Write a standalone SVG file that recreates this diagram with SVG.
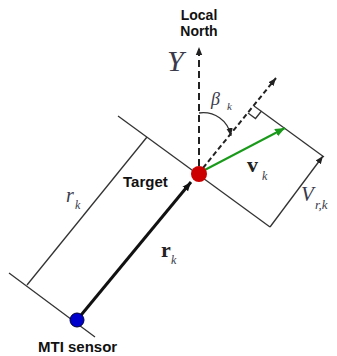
<svg xmlns="http://www.w3.org/2000/svg" width="337" height="356" viewBox="0 0 337 356">
<defs>
<style>
.thin{fill:none;stroke:#333;stroke-width:1.3}
.dash{fill:none;stroke:#222;stroke-width:2}
.lbl{font-family:"Liberation Sans",Arial,sans-serif;font-weight:bold;fill:#111}
.math{font-family:"Liberation Serif","Times New Roman",serif;font-style:italic;fill:#3a3a4a}
.bold{font-family:"Liberation Serif","Times New Roman",serif;font-weight:bold;fill:#222}
</style>
<marker id="ah" viewBox="0 0 10 10" refX="10" refY="5" markerWidth="9" markerHeight="9" markerUnits="userSpaceOnUse" orient="auto"><path d="M0,1 L10,5 L0,9 z" fill="#111"/></marker>
<marker id="ahs" viewBox="0 0 10 10" refX="10" refY="5" markerWidth="8" markerHeight="8" markerUnits="userSpaceOnUse" orient="auto"><path d="M0,1 L10,5 L0,9 z" fill="#222"/></marker>
<marker id="ahg" viewBox="0 0 10 10" refX="10" refY="5" markerWidth="10" markerHeight="10" markerUnits="userSpaceOnUse" orient="auto"><path d="M0,1 L10,5 L0,9 z" fill="#1a9a1a"/></marker>
</defs>
<rect width="337" height="356" fill="#fff"/>
<g id="connectors">
<path class="thin" d="M118,116 L270,227"/>
<path class="thin" d="M9,273 L95,337"/>
<path class="thin" d="M27,285 L147,137"/>
<path class="thin" d="M254,106 L324,157"/>
<path class="thin" d="M270,227 L323,156" marker-end="url(#ahs)"/>
<path class="thin" d="M248,113 L255.5,118.5 L261.5,111"/>
<path class="dash" d="M199,166 L199,47" stroke-dasharray="7 4" marker-end="url(#ahs)"/>
<path class="dash" d="M203,168 L276,78" stroke-dasharray="5 3" marker-end="url(#ahs)"/>
<path class="thin" d="M199,113 C214,111 228,120 231,136" stroke="#111" stroke-width="1.6" marker-end="url(#ahs)"/>
<path d="M199,173 L285,128" stroke="#1a9a1a" stroke-width="2" fill="none" marker-end="url(#ahg)"/>
<path d="M77,320 L191,182" stroke="#111" stroke-width="3" fill="none" marker-end="url(#ah)"/>
</g>
<g id="target">
<circle cx="199" cy="174" r="8" fill="#cc0000"/>
<text class="lbl" x="123" y="187" font-size="15">Target</text>
</g>
<g id="sensor">
<circle cx="77" cy="320" r="7" fill="#0000cc" stroke="#000033" stroke-width="1"/>
<text class="lbl" x="38" y="352" font-size="15">MTI sensor</text>
</g>
<g id="north">
<text class="lbl" x="199" y="20" font-size="14" text-anchor="middle">Local</text>
<text class="lbl" x="199" y="36" font-size="14" text-anchor="middle">North</text>
<text class="math" x="167" y="71" font-size="30">Y</text>
</g>
<g id="labels">
<text class="math" x="211" y="105" font-size="18" fill="#6a5a5a">β</text>
<text class="math" x="227" y="110" font-size="11">k</text>
<text class="math" x="66" y="202" font-size="20">r</text>
<text class="math" x="75" y="209" font-size="12">k</text>
<text class="bold" x="161" y="257" font-size="22">r</text>
<text class="math" x="171" y="264" font-size="12">k</text>
<text class="bold" x="247" y="172" font-size="22">v</text>
<text class="math" x="262" y="180" font-size="12">k</text>
<text class="math" x="301" y="201" font-size="21">V</text>
<text class="math" x="315" y="209" font-size="13">r,k</text>
</g>
</svg>
